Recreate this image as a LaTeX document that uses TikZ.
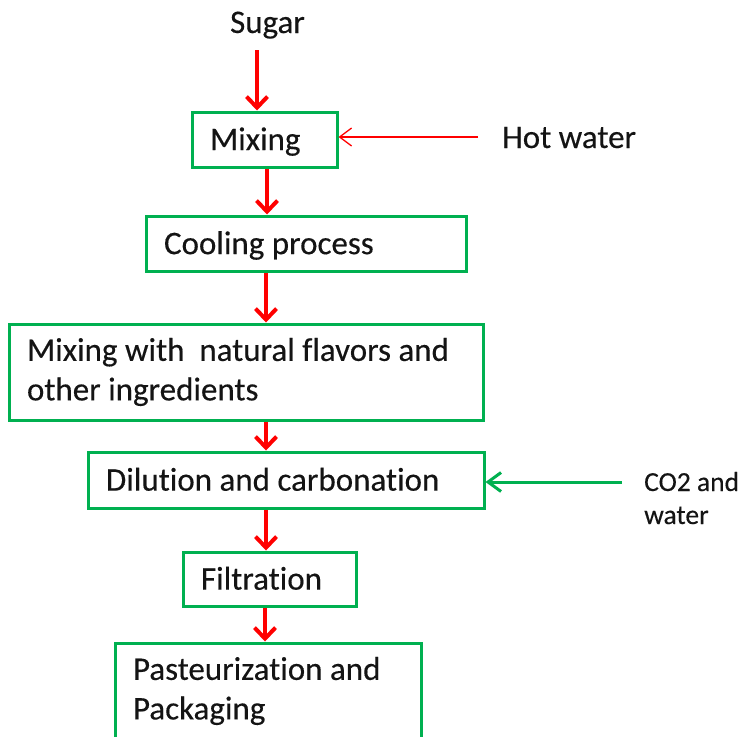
\documentclass[tikz,border=0pt]{standalone}
\usepackage{fontspec}
\setmainfont{Carlito}[Ligatures={NoCommon},FakeBold=0.3]
\usetikzlibrary{arrows.meta}
\definecolor{bgreen}{HTML}{00B050}
\definecolor{ared}{HTML}{FF0000}
\definecolor{txt}{HTML}{141414}
\newcommand\mainfs{\fontsize{33}{39.5}\selectfont}
\newcommand\smallfs{\fontsize{27.5}{33}\selectfont}
\begin{document}
\begin{tikzpicture}[x=1pt,y=-1pt,
  box/.style={draw=bgreen,line width=3pt,rectangle,inner xsep=18pt,inner ysep=0pt,
    align=flush left,font=\mainfs,text=txt},
  oneline/.style={text height=21.3pt,text depth=0pt},
  label/.style={inner sep=0pt,text=txt},
  bigarr/.style={draw=ared,line width=4pt,-{Straight Barb[length=11pt,width=21pt]}},
  thinarr/.style={draw=ared,line width=1.3pt,-{Straight Barb[length=12pt,width=18pt]}},
  greenarr/.style={draw=bgreen,line width=3pt,-{Straight Barb[length=13pt,width=19pt]}}]
\useasboundingbox (0,0) rectangle (743,736);
\clip (0,0) rectangle (743,736);

% boxes
\node[box,oneline,minimum width=145pt,minimum height=55pt,text width=109pt] (mix) at (264.5,139.5) {Mixing};
\node[box,oneline,minimum width=320pt,minimum height=55pt,text width=284pt] (cool) at (306,243.5) {Cooling process};
\node[box,minimum width=474pt,minimum height=96pt,text width=438pt] (mixw) at (246,372) {Mixing with\ \ natural flavors and\\other ingredients};
\node[box,oneline,minimum width=396pt,minimum height=56pt,text width=360pt] (dil) at (286,480) {Dilution and carbonation};
\node[box,oneline,minimum width=173pt,minimum height=54pt,text width=137pt] (fil) at (269.5,579) {Filtration};
\node[box,minimum width=306pt,minimum height=96pt,text width=270pt] (past) at (268,691) {Pasteurization and\\Packaging};

% inputs
\node[label,font=\mainfs,anchor=base] (sugar) at (267.5,33) {Sugar};
\node[label,font=\mainfs,anchor=base west] (hot) at (502,148) {Hot water};
\node[label,font=\smallfs,anchor=base west,align=flush left] (co2) at (644,524) {CO2 and\\water};

% arrow positions
\coordinate (a1) at (257,50);
\coordinate (a2) at (267,0);
\coordinate (a3) at (266,0);
\coordinate (a4) at (266,0);
\coordinate (a5) at (266,0);
\coordinate (a6) at (265,0);
\coordinate (hw) at (478,137);
\coordinate (cw) at (622,482);

% connectors
\draw[bigarr] (a1) -- (a1 |- mix.north);
\draw[bigarr] (mix.south -| a2) -- (cool.north -| a2);
\draw[bigarr] (cool.south -| a3) -- (mixw.north -| a3);
\draw[bigarr] (mixw.south -| a4) -- (dil.north -| a4);
\draw[bigarr] (dil.south -| a5) -- (fil.north -| a5);
\draw[bigarr] (fil.south -| a6) -- (past.north -| a6);
\draw[thinarr] (hw) -- (hw -| mix.east);
\draw[greenarr] (cw) -- (cw -| dil.east);
\end{tikzpicture}
\end{document}
